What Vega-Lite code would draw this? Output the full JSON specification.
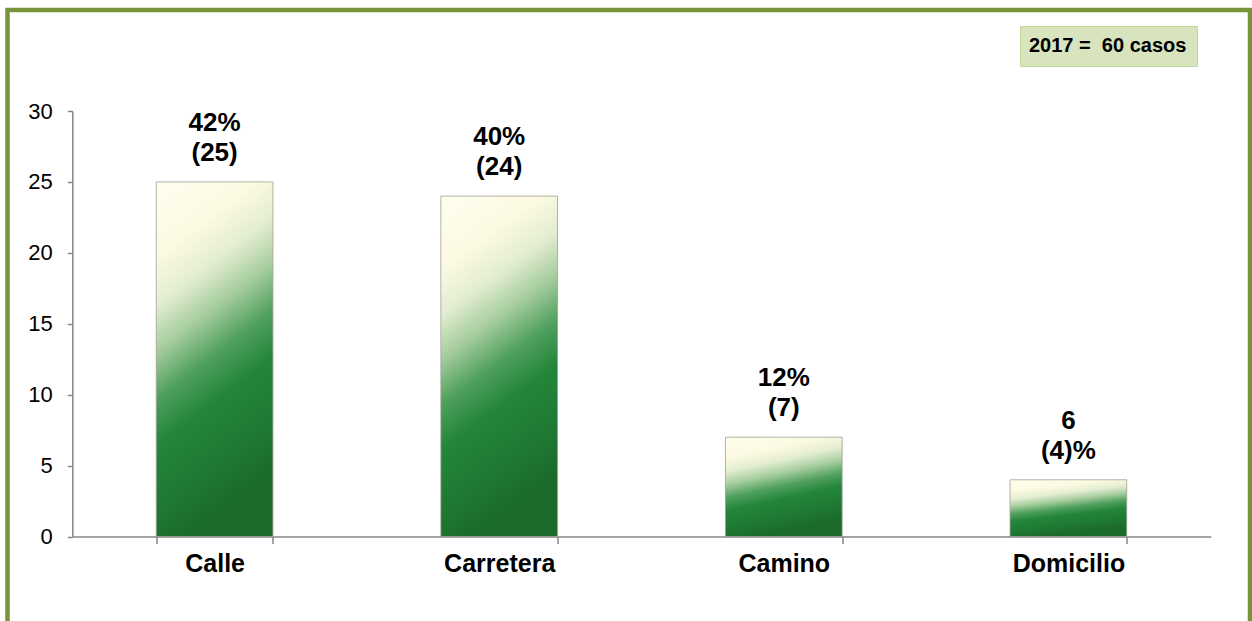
{
  "$schema": "https://vega.github.io/schema/vega-lite/v6.json",
  "autosize": "none",
  "padding": {"left": 7.5, "top": 10, "right": 2, "bottom": 0},
  "width": 1242.5,
  "height": 615,
  "background": "white",
  "config": {
    "view": {"stroke": "#77933C", "strokeWidth": 4.5, "fill": "white"},
    "font": "Liberation Sans"
  },
  "layer": [
    {
      "data": {
        "values": [
          {"lugar": "Calle", "casos": 25, "etiqueta": "42%\n(25)"},
          {"lugar": "Carretera", "casos": 24, "etiqueta": "40%\n(24)"},
          {"lugar": "Camino", "casos": 7, "etiqueta": "12%\n(7)"},
          {"lugar": "Domicilio", "casos": 4, "etiqueta": "6\n(4)%"}
        ]
      },
      "encoding": {
        "x": {
          "field": "lugar",
          "type": "nominal",
          "sort": null,
          "scale": {"type": "band", "range": [64.8, 1203.2], "paddingInner": 0.59, "paddingOuter": 0.295},
          "axis": {
            "title": null,
            "offset": -88.5,
            "tickBand": "extent",
            "tickSize": 7,
            "tickColor": "#868686",
            "tickWidth": 1.5,
            "domainColor": "#868686",
            "domainWidth": 1.5,
            "labelFontSize": 25,
            "labelFontWeight": "bold",
            "labelColor": "#000000",
            "labelPadding": 8,
            "labelAngle": 0,
            "grid": false
          }
        },
        "y": {
          "field": "casos",
          "type": "quantitative",
          "scale": {"domain": [0, 30], "range": [526.5, 101], "nice": false},
          "axis": {
            "title": null,
            "offset": -64.8,
            "values": [0, 5, 10, 15, 20, 25, 30],
            "tickSize": 5,
            "tickColor": "#868686",
            "tickWidth": 1.5,
            "domainColor": "#868686",
            "domainWidth": 1.5,
            "labelFontSize": 22,
            "labelColor": "#000000",
            "labelPadding": 15,
            "grid": false
          }
        }
      },
      "layer": [
        {
          "mark": {
            "type": "bar",
            "stroke": "#a0a092",
            "strokeWidth": 1,
            "strokeOpacity": 0.8,
            "color": {
              "gradient": "linear",
              "x1": 0, "y1": 0, "x2": 0.25, "y2": 1,
              "stops": [
                {"offset": 0, "color": "#FFFEF0"},
                {"offset": 0.2, "color": "#FCFAE2"},
                {"offset": 0.33, "color": "#E2EDD2"},
                {"offset": 0.45, "color": "#A6CD9E"},
                {"offset": 0.58, "color": "#4E9F5D"},
                {"offset": 0.7, "color": "#23863A"},
                {"offset": 0.88, "color": "#1E7832"},
                {"offset": 1, "color": "#1B6B2B"}
              ]
            }
          }
        },
        {
          "mark": {
            "type": "text",
            "baseline": "alphabetic",
            "align": "center",
            "dy": -51,
            "fontSize": 26,
            "fontWeight": "bold",
            "color": "#000000",
            "lineBreak": "\n",
            "lineHeight": 30
          },
          "encoding": {"text": {"field": "etiqueta", "type": "nominal"}}
        }
      ]
    },
    {
      "data": {"values": [{"nota": "2017 = \u00a060 casos"}]},
      "mark": {"type": "point", "opacity": 0},
      "encoding": {
        "shape": {
          "field": "nota",
          "type": "nominal",
          "legend": {
            "orient": "none",
            "legendX": 1012.5,
            "legendY": 16,
            "title": null,
            "fillColor": "#D7E4BD",
            "strokeColor": "#C3D69B",
            "padding": 10,
            "labelFontSize": 20,
            "labelFontWeight": "bold",
            "labelColor": "#000000",
            "labelLimit": 0,
            "labelOffset": -21,
            "symbolSize": 0,
            "symbolStrokeWidth": 0,
            "symbolOpacity": 0
          }
        }
      }
    }
  ]
}
